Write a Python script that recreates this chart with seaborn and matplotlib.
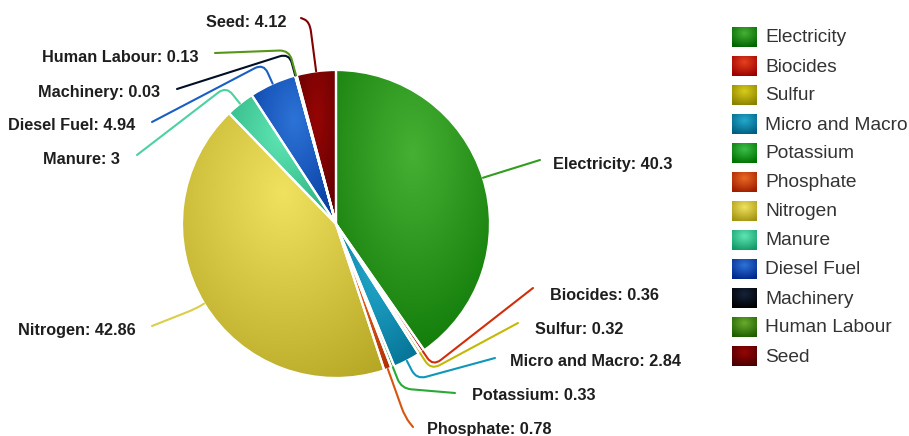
import numpy as np
import matplotlib
matplotlib.use("Agg")
import matplotlib.pyplot as plt
from matplotlib.path import Path
from matplotlib.patches import PathPatch
import seaborn as sns

# Energy input shares (%) by source
categories = ["Electricity", "Biocides", "Sulfur", "Micro and Macro", "Potassium",
              "Phosphate", "Nitrogen", "Manure", "Diesel Fuel", "Machinery",
              "Human Labour", "Seed"]
values = [40.3, 0.36, 0.32, 2.84, 0.33, 0.78, 42.86, 3, 4.94, 0.03, 0.13, 4.12]
slice_colors = ["#46b034", "#e6411e", "#d7cd19", "#23aacd", "#3cbe4b", "#eb6923",
                "#f0e15f", "#5fe6b4", "#2d73d7", "#14233a", "#69aa2d", "#960505"]

sns.set_theme(style="white")
plt.rcParams["font.family"] = ["Liberation Sans", "DejaVu Sans"]

W, H = 909, 436
fig = plt.figure(figsize=(W / 100, H / 100), dpi=100)
ax = fig.add_axes([0, 0, 1, 1])


def up(y):
    return H - y


CX, CY, R = 336, up(224), 154
palette = sns.color_palette(slice_colors)

wedges, _ = ax.pie(values, colors=palette, startangle=90, counterclock=False,
                   center=(CX, CY), radius=R, frame=True,
                   wedgeprops=dict(edgecolor="white", linewidth=1.6))
ax.set_xlim(0, W)
ax.set_ylim(0, H)
ax.set_aspect("equal")
ax.axis("off")


def gradient_fill(patch, rgb, bbox, zorder, spread=0.9, shade=0.25):
    x0, y0, x1, y1 = bbox
    n = 120
    xs = np.linspace(x0, x1, n)
    ys = np.linspace(y0, y1, n)
    X, Y = np.meshgrid(xs, ys)
    w, h = max(x1 - x0, 1e-6), max(y1 - y0, 1e-6)
    gx, gy = x0 + 0.5 * w, y1 - 0.3 * h
    t = np.sqrt(((X - gx) / (spread * w)) ** 2 + ((Y - gy) / (spread * h)) ** 2)
    t = np.clip(t, 0, 1)[..., None]
    base = np.array(rgb)
    dark = np.clip(base - shade, 0, 1)
    img = base * (1 - t) + dark * t
    im = ax.imshow(img, extent=(x0, x1, y0, y1), origin="lower",
                   interpolation="bilinear", zorder=zorder)
    im.set_clip_path(patch)
    return im


for wdg, col in zip(wedges, palette):
    ext = wdg.get_path().get_extents()
    gradient_fill(wdg, col, (ext.x0, ext.y0, ext.x1, ext.y1), 1)
    wdg.set_facecolor("none")
    wdg.set_zorder(2)

# Leader lines and labels: (elbow offset, line end, text anchor, alignment)
label_layout = {
    "Electricity": (10, (540, 160), (553, 164), "left"),
    "Biocides": (18, (533, 288), (550, 296), "left"),
    "Sulfur": (20, (518, 323), (535, 329), "left"),
    "Micro and Macro": (21, (495, 358), (510, 362), "left"),
    "Potassium": (23, (455, 393), (472, 396), "left"),
    "Phosphate": (51, (413, 427), (427, 429), "left"),
    "Nitrogen": (10, (152, 326), (136, 331), "right"),
    "Manure": (22, (137, 155), (120, 159), "right"),
    "Diesel Fuel": (22, (152, 122), (135, 126), "right"),
    "Machinery": (23, (177, 89), (160, 92), "right"),
    "Human Labour": (26, (215, 53), (198, 58), "right"),
    "Seed": (50, (301, 18), (287, 23), "right"),
}

total = sum(values)
cum = 0.0
for cat, val, col in zip(categories, values, palette):
    mid = (cum + val / 2) / total * 2 * np.pi
    cum += val
    d, end, txt, ha = label_layout[cat]
    ux, uy = np.sin(mid), np.cos(mid)
    p0 = np.array([CX + R * ux, CY + R * uy])
    p1 = np.array([CX + (R + d) * ux, CY + (R + d) * uy])
    p2 = np.array([end[0], up(end[1])])
    v01 = p1 - p0
    v12 = p2 - p1
    r0 = min(10, 0.6 * np.linalg.norm(v01))
    r1 = min(10, 0.6 * np.linalg.norm(v12))
    pa = p1 - r0 * v01 / np.linalg.norm(v01)
    pb = p1 + r1 * v12 / np.linalg.norm(v12)
    verts = [p0, pa, p1, pb, p2]
    codes = [Path.MOVETO, Path.LINETO, Path.CURVE3, Path.CURVE3, Path.LINETO]
    lc = np.clip(np.array(col) - 0.08, 0, 1)
    ax.add_patch(PathPatch(Path(verts, codes), facecolor="none", edgecolor=lc,
                           linewidth=1.5, zorder=3, capstyle="round"))
    label = f"{val:g}"
    ax.text(txt[0], up(txt[1]), f"{cat}: {label}", ha=ha, va="center",
            fontsize=11.7, fontweight="bold", color="#1e1e1e", zorder=4)

# Legend with gradient swatches
lx0, lx1 = 732, 757
for i, (cat, col) in enumerate(zip(categories, palette)):
    yc = 37 + 29 * i
    y0, y1 = up(yc + 10), up(yc - 10)
    sw = plt.Rectangle((lx0, y0), lx1 - lx0, y1 - y0, facecolor="none",
                       edgecolor="none", zorder=2)
    ax.add_patch(sw)
    gradient_fill(sw, col, (lx0, y0, lx1, y1), 1, spread=0.75, shade=0.3)
    ax.text(765, up(yc + 1), cat, ha="left", va="center", fontsize=13.8,
            color="#333333", zorder=4)

fig.savefig("out.png", dpi=100)
